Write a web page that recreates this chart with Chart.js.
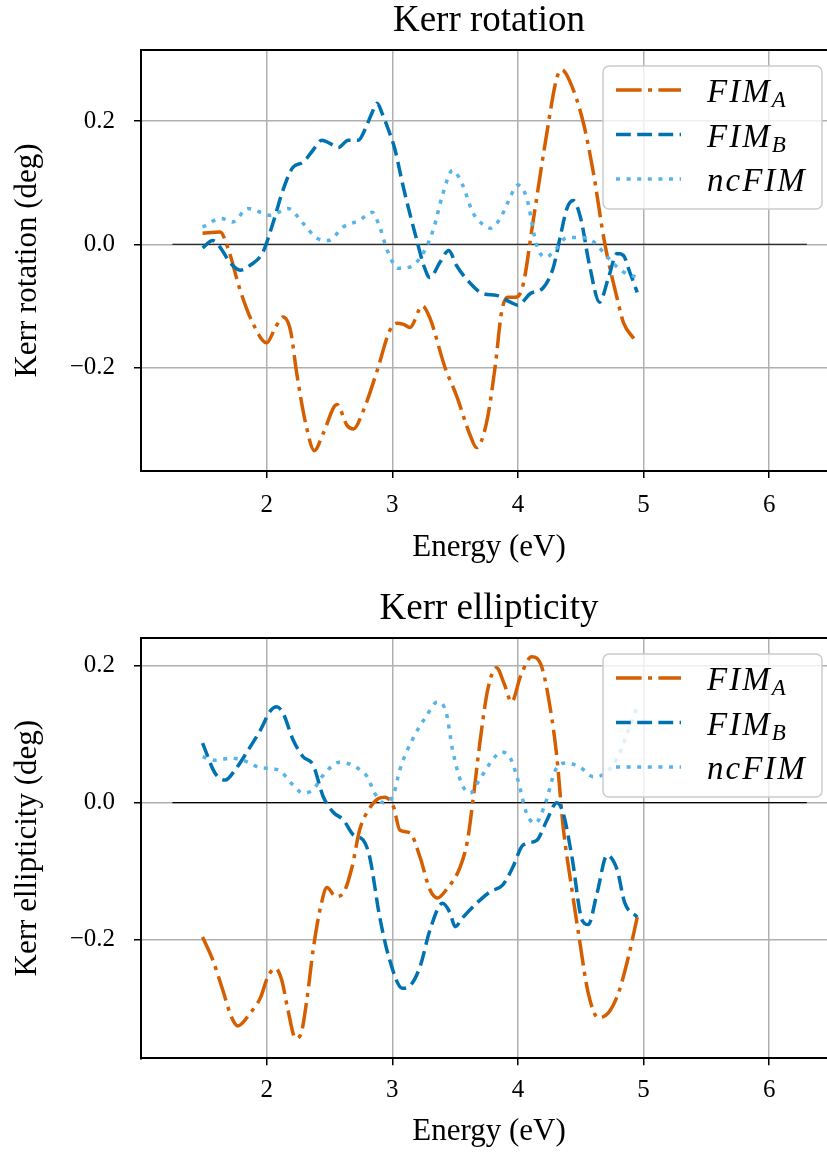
<!DOCTYPE html>
<html>
<head>
<meta charset="utf-8">
<title>Kerr rotation / ellipticity</title>
<script src="https://cdn.jsdelivr.net/npm/chart.js@4.4.1/dist/chart.umd.min.js"></script>
<style>
  html, body { margin: 0; padding: 0; background: #fff; overflow: hidden; }
  .panel { position: absolute; left: 0; width: 850px; }
  #top { top: 0; height: 580px; }
  #bottom { top: 580px; height: 573px; }
</style>
</head>
<body>
<div class="panel" id="top"><canvas id="rotCanvas" width="850" height="580"></canvas></div>
<div class="panel" id="bottom"><canvas id="ellCanvas" width="850" height="573"></canvas></div>

<script>
// ---- data ----
const seriesNames = ['FIM_A', 'FIM_B', 'ncFIM'];
const xTicks = [2, 3, 4, 5, 6];
const yTicks = [-0.2, 0.0, 0.2];
const zeroLineX = [1.25, 6.3];

// Kerr rotation
const rotAx = [1.49, 1.63, 1.69, 1.79, 1.89, 2.0, 2.07, 2.13, 2.19, 2.24, 2.31, 2.38, 2.45, 2.56, 2.64, 2.69, 2.77, 2.88, 2.98, 3.04, 3.09, 3.14, 3.24, 3.30, 3.42, 3.51, 3.62, 3.67, 3.75, 3.82, 3.87, 3.92, 3.98, 4.04, 4.12, 4.23, 4.31, 4.35, 4.41, 4.52, 4.60, 4.69, 4.79, 4.84, 4.93];
const rotAy = [0.018, 0.02, -0.005, -0.075, -0.128, -0.16, -0.135, -0.118, -0.14, -0.21, -0.29, -0.335, -0.307, -0.26, -0.294, -0.30, -0.27, -0.205, -0.14, -0.128, -0.13, -0.135, -0.10, -0.12, -0.2, -0.245, -0.31, -0.33, -0.29, -0.197, -0.11, -0.086, -0.086, -0.067, 0.036, 0.18, 0.27, 0.283, 0.266, 0.198, 0.117, 0.003, -0.088, -0.127, -0.155];

const rotBx = [1.49, 1.57, 1.63, 1.71, 1.79, 1.87, 1.97, 2.05, 2.13, 2.21, 2.29, 2.37, 2.44, 2.50, 2.57, 2.65, 2.73, 2.78, 2.84, 2.88, 2.92, 2.98, 3.02, 3.09, 3.20, 3.25, 3.30, 3.38, 3.45, 3.51, 3.62, 3.72, 3.83, 3.94, 4.0, 4.10, 4.20, 4.28, 4.34, 4.39, 4.44, 4.50, 4.57, 4.65, 4.72, 4.79, 4.84, 4.89, 4.95];
const rotBy = [-0.006, 0.006, -0.005, -0.03, -0.042, -0.034, -0.013, 0.034, 0.088, 0.125, 0.133, 0.153, 0.169, 0.164, 0.157, 0.169, 0.169, 0.185, 0.214, 0.229, 0.212, 0.18, 0.155, 0.091, 0.003, -0.034, -0.054, -0.029, -0.01, -0.034, -0.063, -0.08, -0.083, -0.094, -0.099, -0.08, -0.071, -0.039, 0.015, 0.058, 0.071, 0.042, -0.034, -0.094, -0.055, -0.015, -0.018, -0.045, -0.078];

const rotNx = [1.49, 1.64, 1.73, 1.85, 1.95, 2.03, 2.17, 2.29, 2.40, 2.49, 2.61, 2.74, 2.84, 2.90, 2.96, 3.05, 3.14, 3.25, 3.33, 3.40, 3.48, 3.56, 3.64, 3.71, 3.78, 3.86, 3.92, 4.0, 4.07, 4.15, 4.22, 4.31, 4.39, 4.51, 4.59, 4.68, 4.76, 4.84, 4.95];
const rotNy = [0.028, 0.042, 0.036, 0.058, 0.052, 0.047, 0.058, 0.034, 0.01, 0.006, 0.028, 0.039, 0.052, 0.028, -0.01, -0.039, -0.037, -0.013, 0.026, 0.08, 0.12, 0.096, 0.052, 0.034, 0.026, 0.042, 0.068, 0.096, 0.075, -0.002, -0.021, -0.006, 0.011, 0.011, 0.006, -0.013, -0.031, -0.045, -0.054];

// Kerr ellipticity
const ellAx = [1.49, 1.57, 1.65, 1.72, 1.77, 1.87, 1.95, 2.01, 2.07, 2.12, 2.17, 2.23, 2.27, 2.32, 2.37, 2.43, 2.48, 2.55, 2.61, 2.68, 2.74, 2.81, 2.89, 2.94, 3.01, 3.06, 3.14, 3.22, 3.30, 3.36, 3.43, 3.54, 3.60, 3.64, 3.70, 3.76, 3.83, 3.89, 3.95, 4.02, 4.11, 4.19, 4.26, 4.31, 4.36, 4.43, 4.49, 4.56, 4.64, 4.72, 4.80, 4.88, 4.95];
const ellAy = [-0.196, -0.229, -0.273, -0.313, -0.326, -0.307, -0.285, -0.254, -0.242, -0.259, -0.303, -0.344, -0.339, -0.288, -0.215, -0.152, -0.124, -0.137, -0.132, -0.094, -0.04, -0.011, 0.006, 0.008, -0.006, -0.04, -0.044, -0.079, -0.127, -0.139, -0.127, -0.094, -0.054, 0.0, 0.091, 0.165, 0.197, 0.174, 0.147, 0.184, 0.213, 0.198, 0.135, 0.067, -0.035, -0.127, -0.2, -0.278, -0.314, -0.307, -0.278, -0.225, -0.167];

const ellBx = [1.49, 1.59, 1.67, 1.75, 1.84, 1.95, 2.03, 2.08, 2.13, 2.21, 2.29, 2.37, 2.45, 2.53, 2.61, 2.69, 2.77, 2.82, 2.90, 2.98, 3.08, 3.13, 3.22, 3.30, 3.40, 3.46, 3.50, 3.56, 3.67, 3.78, 3.88, 3.96, 4.04, 4.15, 4.23, 4.31, 4.36, 4.43, 4.51, 4.56, 4.63, 4.71, 4.79, 4.85, 4.95];
const ellBy = [0.087, 0.043, 0.033, 0.048, 0.073, 0.106, 0.134, 0.14, 0.131, 0.092, 0.067, 0.055, 0.009, -0.014, -0.025, -0.047, -0.055, -0.079, -0.167, -0.23, -0.271, -0.269, -0.24, -0.186, -0.147, -0.161, -0.181, -0.168, -0.147, -0.13, -0.12, -0.094, -0.062, -0.055, -0.026, 0.0, -0.015, -0.079, -0.171, -0.178, -0.132, -0.077, -0.098, -0.146, -0.167];

const ellNx = [1.49, 1.59, 1.72, 1.84, 1.95, 2.09, 2.21, 2.29, 2.37, 2.45, 2.58, 2.72, 2.80, 2.86, 2.93, 3.01, 3.06, 3.16, 3.27, 3.36, 3.43, 3.48, 3.55, 3.62, 3.68, 3.78, 3.87, 3.94, 4.00, 4.07, 4.14, 4.22, 4.30, 4.39, 4.50, 4.60, 4.68, 4.79, 4.87, 4.95];
const ellNy = [0.067, 0.062, 0.065, 0.06, 0.051, 0.048, 0.026, 0.014, 0.019, 0.04, 0.059, 0.051, 0.038, 0.014, 0.0, 0.012, 0.048, 0.092, 0.126, 0.147, 0.131, 0.077, 0.029, 0.014, 0.029, 0.058, 0.074, 0.065, 0.033, -0.016, -0.03, 0.0, 0.048, 0.058, 0.051, 0.038, 0.041, 0.065, 0.101, 0.14];

// ---- styles ----
const SERIF = '"Liberation Serif", "DejaVu Serif", serif';
const LINE_STYLES = [
  { color: '#d55e00', dash: [25.6, 6.4, 4, 6.4] },  // dash-dot
  { color: '#0072b2', dash: [14.8, 6.4] },          // dashed
  { color: '#56b4e9', dash: [4, 6.6] },             // dotted
];
const LINE_W = 3.5;

const zip = (xs, ys) => xs.map((x, i) => ({ x, y: ys[i] }));

function fmtTick(v) {
  if (Math.abs(v) < 1e-9) return '0.0';
  return (v < 0 ? '\u2212' : '') + Math.abs(v).toFixed(1);
}

// top + right frame lines (matplotlib box)
const frameBox = {
  id: 'frameBox',
  afterDraw(chart) {
    const { ctx, chartArea: a } = chart;
    ctx.save();
    ctx.strokeStyle = '#000';
    ctx.lineWidth = 2;
    ctx.beginPath();
    ctx.moveTo(a.left - 1, a.top);
    ctx.lineTo(a.right, a.top);
    ctx.lineTo(a.right, a.bottom);
    ctx.stroke();
    ctx.restore();
  }
};

// legend inside the axes, upper right
const legendBox = {
  id: 'legendBox',
  afterDatasetsDraw(chart) {
    const { ctx, chartArea: a } = chart;
    const w = 219, h = 143;
    const x0 = a.right - 15 - w, y0 = a.top + 16;
    ctx.save();
    ctx.beginPath();
    ctx.roundRect(x0, y0, w, h, 6);
    ctx.fillStyle = 'rgba(255,255,255,0.8)';
    ctx.fill();
    ctx.strokeStyle = '#cccccc';
    ctx.lineWidth = 1.5;
    ctx.stroke();

    const items = chart.data.datasets.filter(d => d.inLegend);
    items.forEach((ds, i) => {
      const y = y0 + 24 + i * 44.5;
      ctx.beginPath();
      ctx.setLineDash(ds.borderDash);
      ctx.strokeStyle = ds.borderColor;
      ctx.lineWidth = ds.borderWidth;
      ctx.moveTo(x0 + 13, y);
      ctx.lineTo(x0 + 78, y);
      ctx.stroke();
      ctx.setLineDash([]);

      const [main, sub] = ds.label.split('_');
      ctx.fillStyle = '#000';
      ctx.textBaseline = 'alphabetic';
      ctx.textAlign = 'left';
      if ('letterSpacing' in ctx) ctx.letterSpacing = '2px';
      ctx.font = 'italic 33px ' + SERIF;
      ctx.fillText(main, x0 + 104, y + 12);
      if (sub) {
        const mw = ctx.measureText(main).width;
        ctx.font = 'italic 23px ' + SERIF;
        ctx.fillText(sub, x0 + 104 + mw, y + 17);
      }
      if ('letterSpacing' in ctx) ctx.letterSpacing = '0px';
    });
    ctx.restore();
  }
};

function makeChart(canvasId, opts) {
  const datasets = opts.series.map((s, i) => ({
    label: seriesNames[i],
    data: s,
    inLegend: true,
    borderColor: LINE_STYLES[i].color,
    borderDash: LINE_STYLES[i].dash,
    borderWidth: LINE_W,
    borderCapStyle: 'butt',
    cubicInterpolationMode: 'monotone',
    pointRadius: 0,
    fill: false,
    order: 3 - i,
  }));
  datasets.push({
    label: 'zero',
    data: zeroLineX.map(x => ({ x, y: 0 })),
    inLegend: false,
    borderColor: '#000',
    borderWidth: 1.2,
    pointRadius: 0,
    fill: false,
    order: 10,
  });

  return new Chart(document.getElementById(canvasId), {
    type: 'line',
    data: { datasets },
    plugins: [frameBox, legendBox],
    options: {
      responsive: false,
      animation: false,
      layout: { padding: { left: 0, right: 13, top: 0, bottom: 0 } },
      plugins: {
        legend: { display: false },
        tooltip: { enabled: false },
        title: {
          display: true,
          fullSize: false,
          text: opts.title,
          color: '#000',
          font: { family: SERIF, size: 37, weight: 'normal', lineHeight: 1.0 },
          padding: opts.titlePad,
        },
      },
      scales: {
        x: {
          type: 'linear',
          min: 1.0,
          max: 6.54,
          afterBuildTicks: s => { s.ticks = xTicks.map(v => ({ value: v })); },
          afterFit: s => { s.height = opts.xAxisH; },
          grid: { color: '#b0b0b0', lineWidth: 1.5, tickColor: '#000', tickLength: 7, tickWidth: 1.5 },
          border: { color: '#000', width: 2 },
          ticks: { color: '#000', font: { family: SERIF, size: 25, lineHeight: 1.2 }, padding: opts.xTickPad, maxRotation: 0,
                   callback: v => String(v) },
          title: { display: true, text: 'Energy (eV)', color: '#000',
                   font: { family: SERIF, size: 31, lineHeight: 1.2 }, padding: { top: 0, bottom: opts.xTitlePad } },
        },
        y: {
          type: 'linear',
          min: opts.yMin,
          max: opts.yMax,
          afterBuildTicks: s => { s.ticks = yTicks.map(v => ({ value: v })); },
          afterFit: s => { s.width = 141; },
          grid: { color: '#b0b0b0', lineWidth: 1.5, tickColor: '#000', tickLength: 7, tickWidth: 1.5 },
          border: { color: '#000', width: 2 },
          ticks: { color: '#000', font: { family: SERIF, size: 25, lineHeight: 1.2 }, padding: 19, callback: v => fmtTick(v) },
          title: { display: true, text: opts.yLabel, color: '#000',
                   font: { family: SERIF, size: 31, lineHeight: 1.2 }, padding: { top: 9, bottom: 0 } },
        },
      },
    },
  });
}

makeChart('rotCanvas', {
  title: 'Kerr rotation',
  yLabel: 'Kerr rotation (deg)',
  series: [zip(rotAx, rotAy), zip(rotBx, rotBy), zip(rotNx, rotNy)],
  yMin: -0.368, yMax: 0.3153,
  titlePad: { top: 2.5, bottom: 10.5 },
  xAxisH: 109, xTickPad: 12, xTitlePad: 14,
});

makeChart('ellCanvas', {
  title: 'Kerr ellipticity',
  yLabel: 'Kerr ellipticity (deg)',
  series: [zip(ellAx, ellAy), zip(ellBx, ellBy), zip(ellNx, ellNy)],
  yMin: -0.3732, yMax: 0.2404,
  titlePad: { top: 10.5, bottom: 10.5 },
  xAxisH: 94.7, xTickPad: 10, xTitlePad: 2.5,
});
</script>
</body>
</html>
